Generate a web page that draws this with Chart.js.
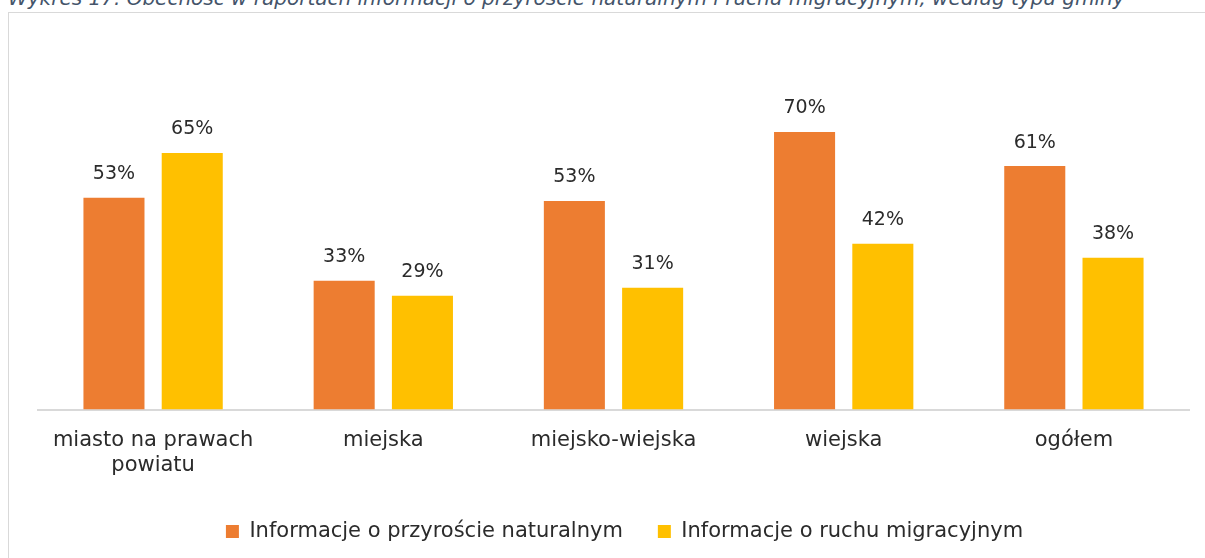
<!DOCTYPE html>
<html>
<head>
<meta charset="utf-8">
<script src="https://cdn.jsdelivr.net/npm/chart.js@4"></script>
<style>
    html, body { margin: 0; padding: 0; background: #fff; overflow: hidden; }
    #wrap { position: relative; width: 1205px; height: 558px; }
    #title {
        position: absolute; left: 8px; top: -14px; white-space: nowrap;
        font-family: "DejaVu Sans", sans-serif; font-style: italic; font-size: 20px;
        color: #44546a; line-height: 24px;
    }
    #box {
        position: absolute; left: 8px; top: 12px; width: 1300px; height: 700px;
        border: 1px solid #d9d9d9; box-sizing: border-box;
    }
    canvas { position: absolute; left: 0; top: 0; }
</style>
</head>
<body>
<div id="wrap">
    <div id="title">Wykres 17. Obecność w raportach informacji o przyroście naturalnym i ruchu migracyjnym, według typu gminy</div>
    <div id="box"></div>
    <canvas id="chart" width="1205" height="558"></canvas>
</div>
<script>
const categories = [['miasto na prawach', 'powiatu'], 'miejska', 'miejsko-wiejska', 'wiejska', 'ogółem'];
const seriesNames = ['Informacje o przyroście naturalnym', 'Informacje o ruchu migracyjnym'];
const naturalGrowth = [53.4, 32.5, 52.6, 70.0, 61.4];
const migration = [64.7, 28.7, 30.7, 41.8, 38.3];

const textColor = '#2b2b2b';
const fontFamily = '"DejaVu Sans", sans-serif';

// draws the percentage above each bar
const valueLabels = {
    id: 'valueLabels',
    afterDatasetsDraw(chart) {
        const ctx = chart.ctx;
        ctx.save();
        ctx.font = '19px ' + fontFamily;
        ctx.fillStyle = textColor;
        ctx.textAlign = 'center';
        ctx.textBaseline = 'bottom';
        chart.data.datasets.forEach((ds, i) => {
            chart.getDatasetMeta(i).data.forEach((bar, j) => {
                ctx.fillText(Math.round(ds.data[j]) + '%', bar.x, bar.y - 14);
            });
        });
        ctx.restore();
    }
};

// legend sits a little right of the plot centre in the original
const legendShift = {
    id: 'legendShift',
    afterLayout(chart) {
        chart.legend.left += 11;
        chart.legend.right += 11;
    }
};

new Chart(document.getElementById('chart'), {
    type: 'bar',
    data: {
        labels: categories,
        datasets: [
            { label: seriesNames[0], data: naturalGrowth, backgroundColor: '#ed7d31' },
            { label: seriesNames[1], data: migration, backgroundColor: '#ffc000' }
        ]
    },
    options: {
        responsive: false,
        animation: false,
        barPercentage: 0.78,
        categoryPercentage: 0.68,
        layout: { padding: { left: 38, right: 16, top: 13, bottom: 6 } },
        plugins: {
            tooltip: { enabled: false },
            legend: {
                position: 'bottom',
                labels: {
                    boxWidth: 13, boxHeight: 13, padding: 35,
                    color: textColor,
                    font: { family: fontFamily, size: 21 }
                }
            }
        },
        scales: {
            y: { display: false, min: 0, max: 100 },
            x: {
                grid: { display: false },
                border: { color: '#d9d9d9', width: 2 },
                ticks: {
                    color: textColor, padding: 10, maxRotation: 0,
                    font: { family: fontFamily, size: 21 }
                },
                afterFit: (scale) => { scale.height -= 2; }
            }
        }
    },
    plugins: [valueLabels, legendShift]
});
</script>
</body>
</html>
